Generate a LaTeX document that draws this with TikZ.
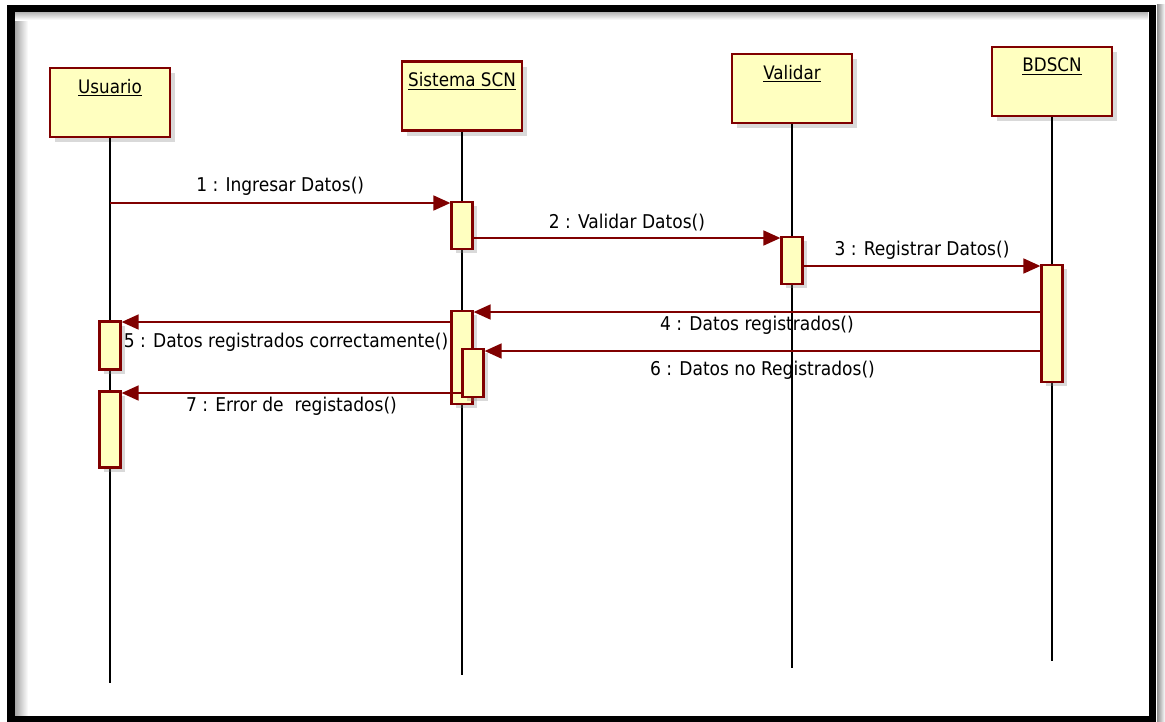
\documentclass[tikz,border=0pt]{standalone}
\usepackage{fontspec}
\setmainfont{DejaVu Sans Condensed}
\usetikzlibrary{positioning}
\usetikzlibrary{shadows}
\usetikzlibrary{arrows.meta}
\definecolor{umlred}{RGB}{128,0,0}
\definecolor{umlfill}{RGB}{255,255,192}
\tikzset{>={Triangle[length=0.34cm,width=0.3cm]}}
\tikzset{obj/.style={draw=umlred, fill=umlfill, line width=1.3pt, minimum width=2.4cm,
    minimum height=1.38cm, inner sep=0pt,
    drop shadow={shadow xshift=3pt, shadow yshift=-3pt, opacity=0.3}}}
\tikzset{objname/.style={font=\fontsize{10.6}{12}\selectfont, inner sep=0pt}}
\tikzset{act/.style={draw=umlred, fill=umlfill, line width=1.3pt, minimum width=0.42cm,
    inner sep=0pt, drop shadow={shadow xshift=2.5pt, shadow yshift=-2.5pt, opacity=0.3}}}
\tikzset{life/.style={draw=black, line width=0.8pt}}
\tikzset{msg/.style={draw=umlred, line width=1pt, ->}}
\tikzset{msglbl/.style={font=\fontsize{10.8}{12}\selectfont, inner sep=0pt}}

\begin{document}
\begin{tikzpicture}[x=0.02cm, y=-0.02cm]
\useasboundingbox (0,0) rectangle (1165,721);

% frame
\shade[left color=black!35, right color=white] (15,12) rectangle (28,716);
\shade[top color=black!30, bottom color=white] (15,12) rectangle (1148,20);
\shade[left color=black!45, right color=white] (1157,4) rectangle (1165,721);
\draw[line width=4.5pt] (11,8.5) rectangle (1152.5,720);

% objects
\node[obj] (usr) at (110,102.5) {};
\node[obj] (sis) at (462,96) {};
\node[obj] (val) at (792,88.5) {};
\node[obj] (bd) at (1052,81.5) {};
\node[objname] (usrname) at ([yshift=-0.42cm]usr.north) {\underline{Usuario}};
\node[objname] (sisname) at ([yshift=-0.42cm]sis.north) {\underline{Sistema SCN}};
\node[objname] (valname) at ([yshift=-0.42cm]val.north) {\underline{Validar}};
\node[objname] (bdname) at ([yshift=-0.42cm]bd.north) {\underline{BDSCN}};

% lifelines
\coordinate (usrend) at (110,683);
\coordinate (sisend) at (462,675);
\coordinate (valend) at (792,668);
\coordinate (bdend) at (1052,661);
\draw[life] (usr.south) -- (usrend);
\draw[life] (sis.south) -- (sisend);
\draw[life] (val.south) -- (valend);
\draw[life] (bd.south) -- (bdend);

% activations
\node[act, minimum height=0.94cm] (s1) at (462,225.5) {};
\node[act, minimum height=0.94cm] (v1) at (792,260.5) {};
\node[act, minimum height=2.34cm] (b1) at (1052,323.5) {};
\node[act, minimum height=1.86cm] (s2) at (462,357.5) {};
\node[act, minimum height=0.96cm] (u1) at (110,345.5) {};
\node[act, minimum height=0.96cm] (s3) at (473,373) {};
\node[act, minimum height=1.52cm] (u2) at (110,429.5) {};

% messages
\draw[msg] (usr |- 0,203) -- node[msglbl, above=0.13cm] {1 : Ingresar Datos()} (s1.west |- 0,203);
\draw[msg] (s1.east |- 0,238) -- node[msglbl, above=0.13cm] {2 : Validar Datos()} (v1.west |- 0,238);
\draw[msg] (v1.east |- 0,266) -- node[msglbl, above=0.11cm] {3 : Registrar Datos()} (b1.west |- 0,266);
\draw[msg] (b1.west |- 0,312) -- node[msglbl, below=0.07cm] {4 : Datos registrados()} (s2.east |- 0,312);
\draw[msg] (s2.west |- 0,322) -- node[msglbl, below=0.21cm] {5 : Datos registrados correctamente()} (u1.east |- 0,322);
\draw[msg] (b1.west |- 0,351) -- node[msglbl, below=0.19cm] {6 : Datos no Registrados()} (s3.east |- 0,351);
\draw[msg] (s3.west |- 0,393) -- node[msglbl, below=0.07cm] {7 : Error de\ \ registados()} (u2.east |- 0,393);
\end{tikzpicture}
\end{document}
